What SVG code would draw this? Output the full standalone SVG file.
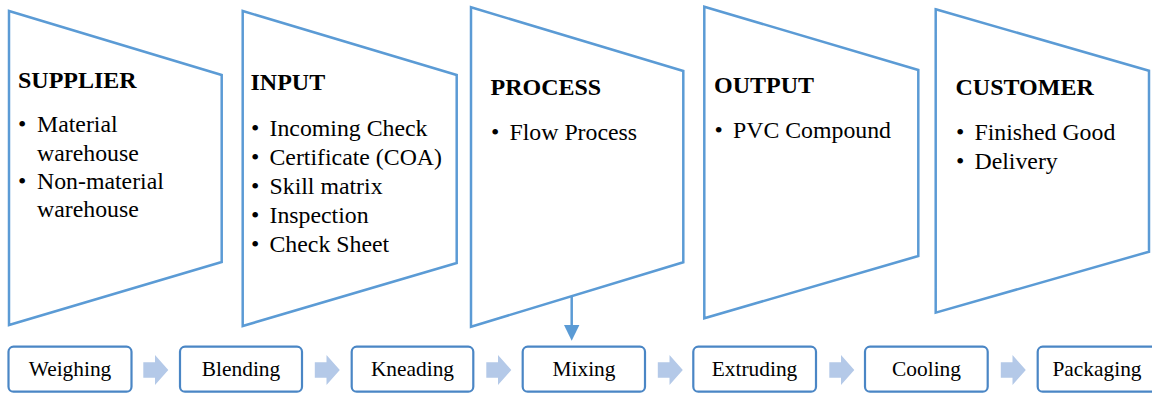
<svg xmlns="http://www.w3.org/2000/svg" width="1152" height="394" viewBox="0 0 1152 394">
<defs>
<style>
.trap{fill:#fff;stroke:#5B9BD5;stroke-width:2.5}
.box{fill:#fff;stroke:#4A86C5;stroke-width:2.2}
.barrow{fill:#B4C9E8}
.h{font-family:'Liberation Serif','Times New Roman','DejaVu Serif',serif;font-weight:bold;font-size:24px;fill:#000}
.t{font-family:'Liberation Serif','Times New Roman','DejaVu Serif',serif;font-size:23.8px;fill:#000}
.s{font-family:'Liberation Serif','Times New Roman','DejaVu Serif',serif;font-size:21.4px;fill:#000;text-anchor:middle}
</style>
</defs>

<g id="supplier">
<polygon class="trap" points="9,11 221.7,75 221.7,262 9,325"/>
<text class="h" x="18" y="88">SUPPLIER</text>
<text class="t" x="18" y="132">•</text><text class="t" x="37" y="132">Material</text>
<text class="t" x="37" y="160.5">warehouse</text>
<text class="t" x="18" y="189">•</text><text class="t" x="37" y="189">Non-material</text>
<text class="t" x="37" y="217">warehouse</text>
</g>

<g id="input">
<polygon class="trap" points="242.7,11 456.7,75 456.7,263 242.7,326"/>
<text class="h" x="250.5" y="90">INPUT</text>
<text class="t" x="251" y="136">•</text><text class="t" x="269.5" y="136">Incoming Check</text>
<text class="t" x="251" y="165">•</text><text class="t" x="269.5" y="165">Certificate (COA)</text>
<text class="t" x="251" y="194">•</text><text class="t" x="269.5" y="194">Skill matrix</text>
<text class="t" x="251" y="222.7">•</text><text class="t" x="269.5" y="222.7">Inspection</text>
<text class="t" x="251" y="251.5">•</text><text class="t" x="269.5" y="251.5">Check Sheet</text>
</g>

<g id="process">
<polygon class="trap" points="471,7.3 683.3,71 683.3,262.3 471,326.7"/>
<text class="h" x="490.5" y="95">PROCESS</text>
<text class="t" x="491" y="139.5">•</text><text class="t" x="509.5" y="139.5">Flow Process</text>
</g>

<g id="output">
<polygon class="trap" points="704.3,6.7 918.3,70 918.3,256 704.3,318.3"/>
<text class="h" x="714" y="92.7">OUTPUT</text>
<text class="t" x="714.5" y="137.5">•</text><text class="t" x="733" y="137.5">PVC Compound</text>
</g>

<g id="customer">
<polygon class="trap" points="935.7,9.3 1149,70.7 1149,251.7 935.7,312.7"/>
<text class="h" x="955.5" y="95">CUSTOMER</text>
<text class="t" x="956" y="139.5">•</text><text class="t" x="974.5" y="139.5">Finished Good</text>
<text class="t" x="956" y="168.5">•</text><text class="t" x="974.5" y="168.5">Delivery</text>
</g>

<g id="weighing"><rect class="box" x="8.5" y="346.7" width="123" height="45" rx="5"/><text class="s" x="70" y="376">Weighing</text></g>
<g id="blending"><rect class="box" x="180" y="346.7" width="122" height="45" rx="5"/><text class="s" x="241" y="376">Blending</text></g>
<g id="kneading"><rect class="box" x="351.7" y="346.7" width="121.6" height="45" rx="5"/><text class="s" x="412.5" y="376">Kneading</text></g>
<g id="mixing"><rect class="box" x="522.7" y="346.7" width="122.3" height="45" rx="5"/><text class="s" x="584" y="376">Mixing</text></g>
<g id="extruding"><rect class="box" x="693.3" y="346.7" width="122.7" height="45" rx="5"/><text class="s" x="754.5" y="376">Extruding</text></g>
<g id="cooling"><rect class="box" x="865" y="346.7" width="122.7" height="45" rx="5"/><text class="s" x="926.5" y="376">Cooling</text></g>
<g id="packaging"><rect class="box" x="1037.7" y="346.7" width="122.7" height="45" rx="5"/><text class="s" x="1097" y="376">Packaging</text></g>

<g id="connectors">
<line x1="571.7" y1="296" x2="571.7" y2="327" stroke="#5B9BD5" stroke-width="2.5"/>
<path d="M564,325 L579.4,325 L571.7,340.7 Z" fill="#5B9BD5"/>
<path class="barrow" d="M143.3,362.3 H155 V355 L168.3,370 L155,385 V377.7 H143.3 Z"/>
<path class="barrow" d="M143.3,362.3 H155 V355 L168.3,370 L155,385 V377.7 H143.3 Z" transform="translate(171.5,0)"/>
<path class="barrow" d="M143.3,362.3 H155 V355 L168.3,370 L155,385 V377.7 H143.3 Z" transform="translate(343,0)"/>
<path class="barrow" d="M143.3,362.3 H155 V355 L168.3,370 L155,385 V377.7 H143.3 Z" transform="translate(514.5,0)"/>
<path class="barrow" d="M143.3,362.3 H155 V355 L168.3,370 L155,385 V377.7 H143.3 Z" transform="translate(686,0)"/>
<path class="barrow" d="M143.3,362.3 H155 V355 L168.3,370 L155,385 V377.7 H143.3 Z" transform="translate(857.5,0)"/>
</g>
</svg>
